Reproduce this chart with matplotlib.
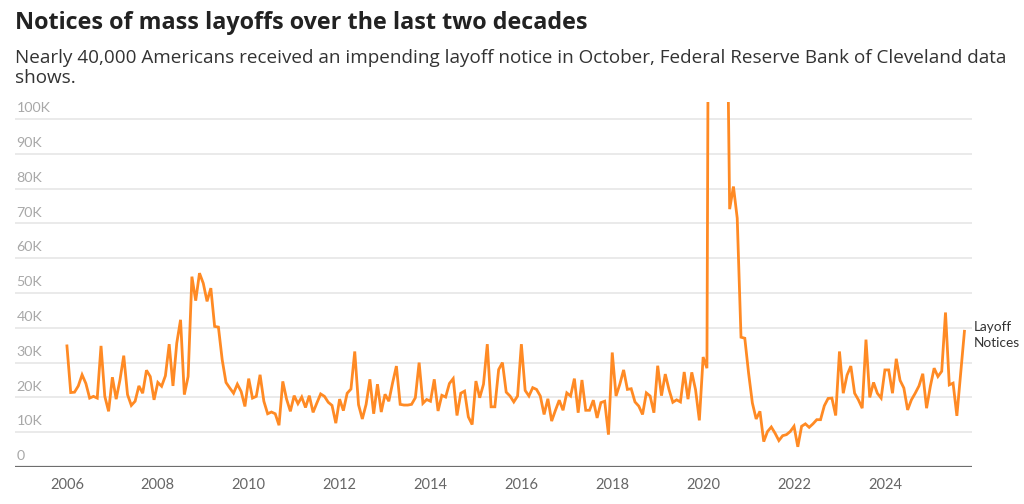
import matplotlib
matplotlib.use("Agg")
import matplotlib.pyplot as plt
import matplotlib.transforms as mtransforms
import numpy as np

plt.rcParams['font.family'] = ['Lato', 'DejaVu Sans']

# monthly layoff notices, thousands, Jan 2006 - Oct 2025
notices = [
    34.8, 21.4, 21.5, 23.3, 26.5, 24.0, 19.8, 20.3, 19.8, 34.8, 20.3, 16.0,
    25.8, 19.5, 25.0, 32.0, 20.8, 17.7, 18.9, 23.3, 21.2, 27.8, 26.0, 19.3,
    24.3, 23.2, 26.2, 35.3, 23.3, 35.6, 42.3, 20.8, 26.0, 54.7, 47.8, 55.7,
    52.8, 47.6, 51.4, 40.4, 40.2, 30.8, 24.3, 22.7, 21.2, 23.8, 21.7, 17.4,
    25.4, 19.8, 20.3, 26.5, 18.9, 15.3, 15.8, 15.3, 12.0, 24.6, 19.5, 16.0,
    20.5, 18.2, 20.1, 17.1, 20.5, 15.7, 18.4, 21.0, 20.3, 18.6, 17.7, 12.6,
    19.5, 16.2, 21.2, 22.4, 33.2, 17.9, 13.8, 18.0, 25.2, 15.3, 23.8, 15.8,
    20.9, 18.9, 24.2, 29.0, 18.0, 17.8, 17.8, 18.0, 19.9, 30.0, 18.3, 19.4,
    18.9, 25.2, 16.1, 20.6, 20.1, 24.0, 25.4, 14.8, 21.2, 21.8, 14.4, 12.2,
    24.7, 19.9, 23.8, 35.3, 17.3, 17.3, 28.0, 30.0, 21.5, 20.4, 18.7, 20.4,
    35.3, 22.0, 20.4, 22.8, 22.3, 20.4, 15.1, 19.6, 13.2, 16.3, 19.2, 16.3,
    21.3, 20.4, 25.4, 15.6, 25.0, 16.3, 16.3, 19.2, 14.1, 18.5, 18.9, 9.3,
    32.9, 20.4, 23.8, 27.9, 22.3, 22.5, 18.7, 17.5, 15.1, 21.3, 20.4, 15.6,
    29.1, 20.5, 26.7, 22.2, 18.6, 19.3, 18.7, 27.3, 19.5, 27.2, 22.2, 13.4,
    31.6, 28.4, 320.0, 700.0, 400.0, 250.0, 165.0, 74.1, 80.6, 71.5, 37.3, 37.0,
    27.0, 18.4, 13.8, 16.0, 7.3, 10.2, 11.5, 9.7, 7.6, 9.0, 9.3, 10.2,
    11.7, 5.8, 11.7, 12.4, 11.4, 12.4, 13.6, 13.6, 17.6, 19.7, 19.8, 14.8,
    33.2, 21.2, 26.4, 29.0, 21.2, 19.3, 16.9, 36.6, 20.0, 24.3, 21.2, 19.8,
    27.9, 27.9, 21.2, 31.1, 24.9, 22.7, 16.4, 19.3, 21.2, 23.3, 26.8, 16.9,
    23.2, 28.4, 26.0, 27.5, 44.4, 23.6, 24.1, 14.7, 27.0, 39.0,
]
months = 2006 + np.arange(len(notices)) / 12.0
year_ticks = list(range(2006, 2025, 2))
y_ticks = list(range(0, 101, 10))
y_labels = ['0'] + ['%dK' % v for v in y_ticks[1:]]

fig = plt.figure(figsize=(10.24, 5.04), dpi=100)
ax = fig.add_axes([0.0146, 0.0734, 0.9346, 0.725])

ax.plot(months, notices, color='#FF8A24', lw=2.0, solid_joinstyle='miter', zorder=3)

ax.set_xlim(2004.856, 2025.916)
ax.set_ylim(0, 105)

for v in y_ticks[1:]:
    ax.axhline(v, color='#e6e6e6', lw=1.2, zorder=1)
ax.axhline(0, color='#6e6e6e', lw=1.6, zorder=4)

for s in ax.spines.values():
    s.set_visible(False)
ax.set_yticks([])
ax.set_xticks(year_ticks)
ax.set_xticklabels([str(y) for y in year_ticks], fontsize=10.5, color='#666666')
ax.tick_params(axis='x', length=0, pad=8)

trans = mtransforms.blended_transform_factory(ax.transAxes, ax.transData)
for v, lab in zip(y_ticks, y_labels):
    ax.annotate(lab, (0, v), xycoords=trans, xytext=(1, 3.5), textcoords='offset points',
                ha='left', va='bottom', fontsize=10.3, color='#a8a8a8')

ax.text(1.002, 38, 'Layoff\nNotices', transform=trans, ha='left', va='center',
        fontsize=9.8, color='#333333', linespacing=1.35)

fig.text(0.0146, 0.943, 'Notices of mass layoffs over the last two decades',
         fontsize=16.8, fontweight='bold', color='#222222', ha='left', va='baseline',
         family=['Open Sans', 'DejaVu Sans'])
fig.text(0.0146, 0.835, 'Nearly 40,000 Americans received an impending layoff notice in October, Federal Reserve Bank of Cleveland data\nshows.',
         fontsize=13.6, color='#333333', ha='left', va='baseline', linespacing=1.16,
         family=['Open Sans', 'DejaVu Sans'])

fig.savefig('out.png', dpi=100)
